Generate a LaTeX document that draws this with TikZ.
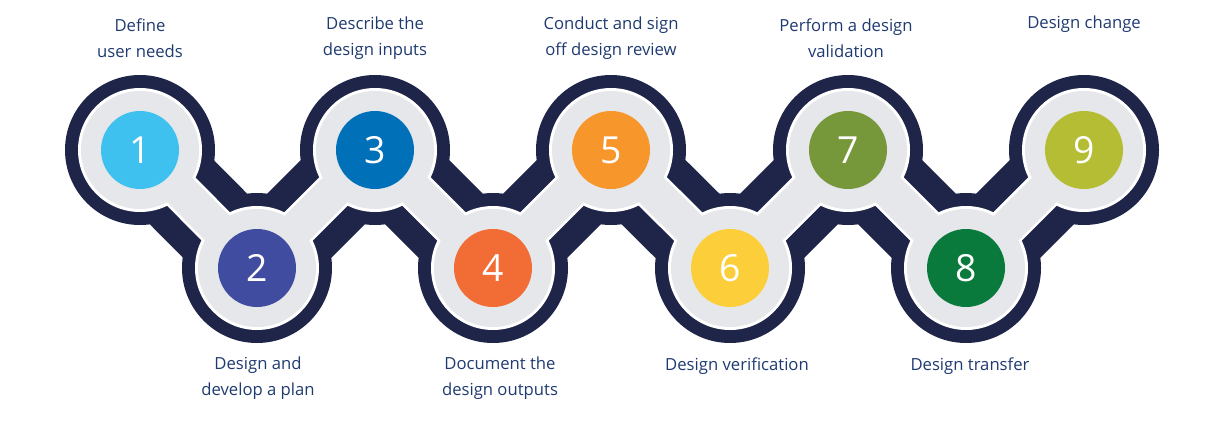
\documentclass[tikz,border=0pt]{standalone}
\usepackage{fontspec}
\setmainfont{Open Sans}
\definecolor{navy}{HTML}{1F2548}
\definecolor{txt}{HTML}{1F3A70}
\definecolor{gry}{HTML}{E6E7EA}
\definecolor{c1}{HTML}{3EC1EE}\definecolor{c2}{HTML}{3F4C9F}\definecolor{c3}{HTML}{0070B8}
\definecolor{c4}{HTML}{F26C36}\definecolor{c5}{HTML}{F7962B}\definecolor{c6}{HTML}{FCCF3A}
\definecolor{c7}{HTML}{76983B}\definecolor{c8}{HTML}{0A7A3C}\definecolor{c9}{HTML}{B4BD33}
\begin{document}
\begin{tikzpicture}[x=0.75pt,y=-0.75pt,
 lbl/.style={text=txt,align=center,font=\fontsize{12.5}{19.5}\selectfont},
 num/.style={circle,minimum size=58.5pt,inner sep=0pt,text=white,font=\fontsize{28}{30}\selectfont}]
\useasboundingbox (0,0) rectangle (1224,443);
\foreach \i/\x/\y in {1/140/150,2/257/268,3/375/150,4/493/268,5/611/150,6/730/268,7/848/150,8/966/268,9/1084/150}
  \coordinate (p\i) at (\x,\y);
\draw[navy,line width=68pt] (p1)--(p2)--(p3)--(p4)--(p5)--(p6)--(p7)--(p8)--(p9);
\foreach \i in {1,...,9} \fill[navy] (p\i) circle (75);
\draw[white,line width=30pt] (p1)--(p2)--(p3)--(p4)--(p5)--(p6)--(p7)--(p8)--(p9);
\foreach \i in {1,...,9} \fill[white] (p\i) circle (62);
\draw[gry,line width=26pt] (p1)--(p2)--(p3)--(p4)--(p5)--(p6)--(p7)--(p8)--(p9);
\foreach \i in {1,...,9} \fill[gry] (p\i) circle (59);
\foreach \i in {1,...,9} \node[num,fill=c\i] (n\i) at (p\i) {\i};
\node[lbl] (t1) at (140,38) {Define\\user needs};
\node[lbl] (t3) at (375,38) {Describe the\\design inputs};
\node[lbl] (t5) at (611,38) {Conduct and sign\\off design review};
\node[lbl] (t7) at (846,38) {Perform a design\\validation};
\node[lbl] (t9) at (1084,24) {Design change};
\node[lbl] (t2) at (258,378) {Design and\\develop a plan};
\node[lbl] (t4) at (500,378) {Document the\\design outputs};
\node[lbl] (t6) at (737,366) {Design verification};
\node[lbl] (t8) at (970,366) {Design transfer};
\end{tikzpicture}
\end{document}
